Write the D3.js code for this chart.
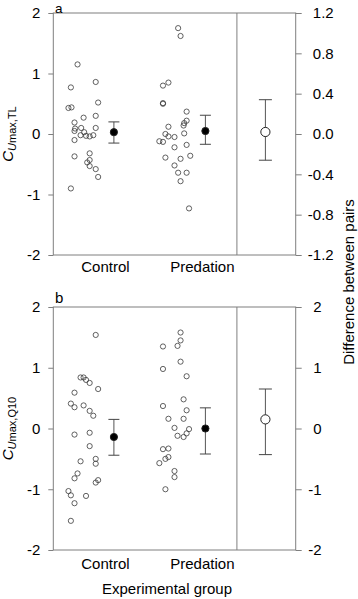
<!DOCTYPE html>
<html>
<head>
<meta charset="utf-8">
<script src="https://cdn.jsdelivr.net/npm/d3@7"></script>
<style>
  body { margin: 0; background: #fff; }
  text { font-family: Arial, "Liberation Sans", sans-serif; }
</style>
</head>
<body>
<div id="chart"></div>
<script>
// group names and where things sit on the shared x axis (0..4)
const groups = ['Control', 'Predation'];
const groupLabelX = [0.86, 2.46];
const meanX = [1.0, 2.51];
const diffX = 3.5;
const dividerX = 3.03;

// tick values
const leftTicks = [-2, -1, 0, 1, 2];
const rightTicksA = [-1.2, -0.8, -0.4, 0, 0.4, 0.8, 1.2];
const rightTicksB = [-2, -1, 0, 1, 2];

// panel a raw points: [x, value]
const controlA = [
  [0.40, 1.15], [0.70, 0.86], [0.29, 0.77], [0.74, 0.52], [0.25, 0.43], [0.30, 0.44],
  [0.70, 0.30], [0.50, 0.27], [0.35, 0.19], [0.70, 0.10], [0.36, 0.09], [0.46, 0.10],
  [0.35, 0.05], [0.51, 0.03], [0.45, -0.02], [0.54, -0.03], [0.60, -0.04], [0.66, -0.02],
  [0.35, -0.10], [0.35, -0.37], [0.60, -0.32], [0.60, -0.43], [0.56, -0.47], [0.60, -0.53],
  [0.70, -0.58], [0.74, -0.71], [0.29, -0.90]
];
const predationA = [
  [2.06, 1.75], [2.10, 1.62], [1.81, 0.80], [1.90, 0.85], [1.81, 0.51], [1.81, 0.50],
  [2.20, 0.37], [2.20, 0.22], [2.16, 0.18], [2.15, 0.14], [1.90, 0.12], [1.85, 0.00],
  [1.90, -0.04], [2.00, -0.05], [2.16, 0.01], [1.75, -0.12], [1.81, -0.13], [2.20, -0.18],
  [2.00, -0.22], [2.26, -0.36], [1.85, -0.39], [2.10, -0.41], [2.00, -0.52], [2.06, -0.64],
  [2.20, -0.64], [2.10, -0.78], [2.24, -1.23]
];
// mean, lower, upper
const summaryA = [[0.03, -0.15, 0.20], [0.05, -0.17, 0.31]];
const diffA = [0.02, -0.26, 0.34];

// panel b raw points
const controlB = [
  [0.70, 1.54], [0.45, 0.84], [0.50, 0.84], [0.54, 0.80], [0.60, 0.75], [0.74, 0.65],
  [0.35, 0.59], [0.29, 0.41], [0.35, 0.35], [0.50, 0.38], [0.60, 0.29], [0.66, 0.21],
  [0.35, -0.10], [0.60, -0.07], [0.60, -0.29], [0.70, -0.50], [0.70, -0.58], [0.45, -0.54],
  [0.40, -0.74], [0.35, -0.82], [0.74, -0.85], [0.70, -0.89], [0.25, -1.03], [0.29, -1.10],
  [0.54, -1.11], [0.35, -1.23], [0.29, -1.52]
];
const predationB = [
  [2.10, 1.58], [2.10, 1.45], [2.05, 1.36], [1.81, 1.35], [2.10, 1.10], [1.81, 0.98],
  [2.20, 0.86], [2.15, 0.48], [1.81, 0.37], [2.20, 0.30], [1.90, 0.16], [2.15, 0.16],
  [2.00, 0.01], [2.24, -0.01], [2.20, -0.08], [2.05, -0.12], [2.15, -0.14], [1.81, -0.34],
  [1.90, -0.33], [1.85, -0.50], [1.90, -0.47], [1.75, -0.57], [2.00, -0.70], [2.00, -0.80],
  [1.85, -1.00]
];
const summaryB = [[-0.14, -0.44, 0.15], [0.00, -0.42, 0.34]];
const diffB = [0.15, -0.43, 0.65];

var width = 358, height = 599;
var frameColor = '#7f7f7f';

const svg = d3.select('#chart')
    .append('svg')
    .attr('width', width)
    .attr('height', height);

const x = d3.scaleLinear()
    .domain([0, 4])
    .range([53.3, 295.7]);

const panels = [
  { tag: 'a', top: 13, bottom: 255, labelY: 272, tagY: 12.5, tagSize: 13.5, sub: 'max,TL', right: rightTicksA, rightFmt: d => d.toFixed(1), rightAnchor: 38,
    points: [controlA, predationA], summary: summaryA, diff: diffA },
  { tag: 'b', top: 307, bottom: 550, labelY: 569, tagY: 303, tagSize: 15, sub: 'max,Q10', right: rightTicksB, rightFmt: d => String(d), rightAnchor: 26,
    points: [controlB, predationB], summary: summaryB, diff: diffB }
];

panels.forEach(p => {
  const y = d3.scaleLinear().domain([-2, 2]).range([p.bottom, p.top]);
  const yr = d3.scaleLinear().domain(d3.extent(p.right)).range([p.bottom, p.top]);
  const g = svg.append('g');

  // frame + divider
  g.append('rect')
    .attr('x', x(0)).attr('y', y(2))
    .attr('width', x(4) - x(0)).attr('height', y(-2) - y(2))
    .attr('fill', 'none').attr('stroke', frameColor).attr('stroke-width', 1);
  g.append('line')
    .attr('x1', x(dividerX)).attr('x2', x(dividerX))
    .attr('y1', y(2)).attr('y2', y(-2))
    .attr('stroke', frameColor);

  // axes
  const la = g.append('g')
    .attr('transform', `translate(${x(0)},0)`)
    .call(d3.axisLeft(y).tickValues(leftTicks).tickFormat(d => String(d)).tickSize(5).tickPadding(8));
  const ra = g.append('g')
    .attr('transform', `translate(${x(4)},0)`)
    .call(d3.axisRight(yr).tickValues(p.right).tickFormat(p.rightFmt).tickSize(6).tickPadding(8));
  [la, ra].forEach(a => {
    a.select('.domain').remove();
    a.selectAll('.tick line').attr('stroke', frameColor);
    a.selectAll('.tick text').attr('fill', '#000').attr('font-size', '15px')
      .attr('font-family', 'Arial, "Liberation Sans", sans-serif');
  });
  ra.selectAll('.tick text').attr('text-anchor', 'end').attr('x', p.rightAnchor);

  // raw points
  p.points.forEach(pts => {
    g.append('g').selectAll('circle')
      .data(pts)
      .join('circle')
      .attr('cx', d => x(d[0]))
      .attr('cy', d => y(d[1]))
      .attr('r', 2.6)
      .attr('fill', 'none')
      .attr('stroke', '#3a3a3a')
      .attr('stroke-width', 0.8);
  });

  // group means with error bars
  const bars = p.summary.map((s, i) => ({ cx: x(meanX[i]), y: y, s: s, cap: 5.5, r: 3.6, fill: '#000' }));
  bars.push({ cx: x(diffX), y: yr, s: p.diff, cap: 6.5, r: 4.6, fill: '#fff' });
  bars.forEach(b => {
    g.append('line')
      .attr('x1', b.cx).attr('x2', b.cx)
      .attr('y1', b.y(b.s[1])).attr('y2', b.y(b.s[2]))
      .attr('stroke', '#555');
    [b.s[1], b.s[2]].forEach(v => {
      g.append('line')
        .attr('x1', b.cx - b.cap).attr('x2', b.cx + b.cap)
        .attr('y1', b.y(v)).attr('y2', b.y(v))
        .attr('stroke', '#444');
    });
    g.append('circle')
      .attr('cx', b.cx).attr('cy', b.y(b.s[0]))
      .attr('r', b.r)
      .attr('fill', b.fill)
      .attr('stroke', '#222')
      .attr('stroke-width', 1);
  });

  // category labels
  g.selectAll('.cat')
    .data(groups)
    .join('text')
    .attr('x', (d, i) => x(groupLabelX[i]))
    .attr('y', p.labelY)
    .attr('text-anchor', 'middle')
    .attr('font-size', '15px')
    .text(d => d);

  // panel letter
  g.append('text')
    .attr('x', 55).attr('y', p.tagY)
    .attr('font-size', p.tagSize + 'px')
    .text(p.tag);

  // left y label  C_{Umax,...}
  const yl = g.append('text')
    .attr('transform', `translate(13,${(p.top + p.bottom) / 2}) rotate(-90)`)
    .attr('text-anchor', 'middle')
    .attr('font-size', '15px');
  yl.append('tspan').attr('font-style', 'italic').text('C');
  yl.append('tspan').attr('font-style', 'italic').attr('font-size', '11px').attr('dy', 3).text('U');
  yl.append('tspan').attr('font-size', '11px').text(p.sub);
});

// right shared label
svg.append('text')
  .attr('transform', 'translate(354,282) rotate(-90)')
  .attr('text-anchor', 'middle')
  .attr('font-size', '15px')
  .text('Difference between pairs');

// x title
svg.append('text')
  .attr('x', 167).attr('y', 594)
  .attr('text-anchor', 'middle')
  .attr('font-size', '15px')
  .text('Experimental group');
</script>
</body>
</html>
